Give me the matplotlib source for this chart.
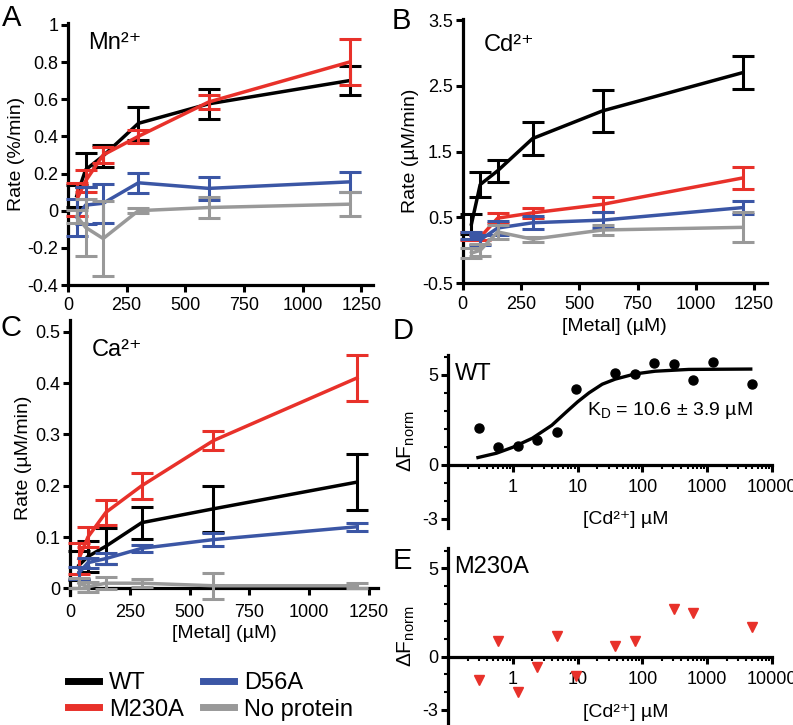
import matplotlib
matplotlib.use("Agg")
import matplotlib.pyplot as plt
from matplotlib.ticker import FuncFormatter, FixedLocator
from matplotlib.lines import Line2D

plt.rcParams['font.family'] = ['Liberation Sans', 'DejaVu Sans']
plt.rcParams['mathtext.fontset'] = 'custom'
plt.rcParams['mathtext.rm'] = 'Liberation Sans'
plt.rcParams['axes.unicode_minus'] = False

# metal concentrations (uM)
conc = [37.5, 75, 150, 300, 600, 1200]
names = ['WT', 'M230A', 'D56A', 'No protein']
colors = ['#000000', '#e8312a', '#3b56a5', '#999999']

# panel A, Mn2+ (%/min)
mn_wt = [0.08, 0.22, 0.295, 0.47, 0.575, 0.70]
mn_wt_err = [0.06, 0.09, 0.06, 0.09, 0.08, 0.08]
mn_m230a = [0.06, 0.16, 0.30, 0.40, 0.585, 0.80]
mn_m230a_err = [0.09, 0.06, 0.045, 0.035, 0.04, 0.125]
mn_d56a = [-0.035, 0.03, 0.04, 0.15, 0.12, 0.155]
mn_d56a_err = [0.10, 0.10, 0.105, 0.055, 0.06, 0.055]
mn_none = [-0.03, -0.09, -0.15, 0.0, 0.017, 0.035]
mn_none_err = [0.035, 0.155, 0.20, 0.015, 0.058, 0.065]

# panel B, Cd2+ (uM/min)
cd_wt = [0.40, 1.0, 1.21, 1.70, 2.12, 2.70]
cd_wt_err = [0.15, 0.19, 0.17, 0.25, 0.32, 0.25]
cd_m230a = [0.22, 0.20, 0.49, 0.57, 0.70, 1.10]
cd_m230a_err = [0.06, 0.04, 0.08, 0.08, 0.11, 0.17]
cd_d56a = [0.23, 0.16, 0.34, 0.42, 0.46, 0.65]
cd_d56a_err = [0.05, 0.08, 0.10, 0.10, 0.12, 0.10]
cd_none = [-0.04, 0.0, 0.28, 0.17, 0.31, 0.35]
cd_none_err = [0.08, 0.09, 0.10, 0.04, 0.07, 0.23]

# panel C, Ca2+ (uM/min)
ca_wt = [0.045, 0.062, 0.082, 0.128, 0.155, 0.207]
ca_wt_err = [0.028, 0.03, 0.035, 0.031, 0.045, 0.055]
ca_m230a = [0.058, 0.10, 0.148, 0.20, 0.288, 0.41]
ca_m230a_err = [0.03, 0.02, 0.025, 0.025, 0.018, 0.045]
ca_d56a = [0.03, 0.05, 0.058, 0.078, 0.095, 0.12]
ca_d56a_err = [0.012, 0.01, 0.01, 0.007, 0.012, 0.008]
ca_none = [0.01, 0.003, 0.01, 0.01, 0.005, 0.005]
ca_none_err = [0.01, 0.01, 0.012, 0.008, 0.025, 0.005]

# panel D, WT binding
wt_cd = [0.3, 0.6, 1.2, 2.4, 4.8, 9.6, 38, 76, 152, 305, 610, 1220, 4880]
wt_df = [2.05, 1.0, 1.05, 1.4, 1.8, 4.2, 5.1, 5.05, 5.65, 5.6, 4.7, 5.7, 4.5]
fit_cd = [0.29, 0.56, 1, 2, 4, 6.8, 10, 15, 24, 38, 77, 157, 520, 4700]
fit_df = [0.41, 0.65, 0.98, 1.48, 2.2, 2.96, 3.5, 4.0, 4.48, 4.76, 5.05, 5.2, 5.3, 5.32]

# panel E, M230A binding
m_cd = [0.3, 0.6, 1.2, 2.4, 4.8, 9.5, 38, 76, 305, 610, 4880]
m_df = [-1.3, 0.9, -2.0, -0.6, 1.2, -1.1, 0.6, 0.9, 2.7, 2.5, 1.7]

W, H = 793, 725
fig = plt.figure(figsize=(W / 100, H / 100), dpi=100)


def box(x0, x1, ytop, ybot):
    return [x0 / W, 1 - ybot / H, (x1 - x0) / W, (ybot - ytop) / H]


def style(ax, size=13):
    for s in ['top', 'right']:
        ax.spines[s].set_visible(False)
    for s in ['left', 'bottom']:
        ax.spines[s].set_linewidth(2.3)
    ax.tick_params(width=2.2, length=5, labelsize=size, pad=2)
    ax.yaxis.set_major_formatter(FuncFormatter(lambda v, p: '%g' % v))


def rate_panel(ax, series):
    for i, (y, e) in enumerate(series):
        ax.errorbar(conc, y, yerr=e, color=colors[i], lw=2.5, elinewidth=2.2,
                    capsize=8, capthick=2.2, zorder=3 + i, clip_on=False,
                    label=names[i])
    ax.set_xticks([0, 250, 500, 750, 1000, 1250])


axA = fig.add_axes(box(68, 373, 23, 285))
rate_panel(axA, [(mn_wt, mn_wt_err), (mn_m230a, mn_m230a_err),
                 (mn_d56a, mn_d56a_err), (mn_none, mn_none_err)])
axA.set_xlim(0, 1300)
axA.set_ylim(-0.4, 1.01)
axA.set_yticks([-0.4, -0.2, 0, 0.2, 0.4, 0.6, 0.8, 1])
axA.set_ylabel('Rate (%/min)', fontsize=14, labelpad=2)
axA.text(0.066, 0.925, 'Mn²⁺', transform=axA.transAxes,
         fontsize=17, va='center')
style(axA)
axA.tick_params(axis='x', pad=4)

axB = fig.add_axes(box(462.7, 767, 18.7, 283.3))
rate_panel(axB, [(cd_wt, cd_wt_err), (cd_m230a, cd_m230a_err),
                 (cd_d56a, cd_d56a_err), (cd_none, cd_none_err)])
axB.set_xlim(0, 1305)
axB.set_ylim(-0.5, 3.52)
axB.set_yticks([-0.5, 0.5, 1.5, 2.5, 3.5])
axB.set_ylabel('Rate (µM/min)', fontsize=14, labelpad=2)
style(axB)
axB.tick_params(axis='x', pad=4)
axB.set_xlabel('[Metal] (µM)', fontsize=14, labelpad=4)
axB.text(0.07, 0.9, 'Cd²⁺', transform=axB.transAxes,
         fontsize=17, va='center')

axC = fig.add_axes(box(70, 378, 320, 595))
rate_panel(axC, [(ca_wt, ca_wt_err), (ca_m230a, ca_m230a_err),
                 (ca_d56a, ca_d56a_err), (ca_none, ca_none_err)])
axC.set_xlim(0, 1288)
axC.set_ylim(-0.013, 0.523)
axC.spines['bottom'].set_position(('data', 0))
axC.set_yticks([0, 0.1, 0.2, 0.3, 0.4, 0.5])
axC.set_ylabel('Rate (µM/min)', fontsize=14, labelpad=2)
style(axC)
axC.tick_params(axis='x', pad=6)
axC.set_xlabel('[Metal] (µM)', fontsize=14, labelpad=3)
axC.text(0.071, 0.89, 'Ca²⁺', transform=axC.transAxes,
         fontsize=17, va='center')


def binding_panel(ax, top, bot, label_y):
    ax.set_xscale('log')
    ax.set_xlim(0.1, 10000)
    ax.set_ylim(bot, top)
    ax.spines['bottom'].set_position(('data', 0))
    ax.set_xticks([1, 10, 100, 1000, 10000])
    ax.set_xticklabels(['1', '10', '100', '1000', '10000'])
    ax.set_yticks([-3, 0, 5])
    ax.yaxis.set_minor_locator(FixedLocator(range(-3, 7)))
    style(ax)
    ax.tick_params(which='minor', width=1.5, length=3)
    ax.tick_params(axis='x', which='major', labelsize=13, pad=5)
    ax.set_ylabel(r'$\mathregular{\Delta F_{norm}}$', fontsize=15, labelpad=4)
    ax.text(0.55, label_y, '[Cd²⁺] µM',
            transform=ax.transAxes, ha='center', va='center', fontsize=14)


axD = fig.add_axes(box(448, 772, 355, 528))
axD.plot(fit_cd, fit_df, color='black', lw=2.4)
axD.plot(wt_cd, wt_df, 'o', color='black', ms=6.5, clip_on=False)
binding_panel(axD, 6.1, -3.5, 0.052)
axD.text(0.02, 0.89, 'WT', transform=axD.transAxes, fontsize=17, va='center')
axD.text(0.43, 0.68, r'$\mathregular{K_D}$ = 10.6 ± 3.9 µM',
         transform=axD.transAxes, fontsize=14, va='center')

axE = fig.add_axes(box(448, 772, 548, 724))
axE.plot(m_cd, m_df, 'v', color=colors[1], ms=6.5, clip_on=False)
binding_panel(axE, 6.15, -3.8, 0.068)
axE.text(0.02, 0.89, 'M230A', transform=axE.transAxes, fontsize=17, va='center')

# panel letters
for letter, x, y in [('A', 2, 18), ('B', 392, 21), ('C', 1, 328),
                     ('D', 393, 331), ('E', 393, 561)]:
    fig.text(x / W, 1 - y / H, letter, fontsize=21, va='center', ha='left')

handles = [Line2D([], [], color=c, lw=5) for c in colors]
fig.legend(handles, names, ncol=2, frameon=False,
           loc='upper left', bbox_to_anchor=(68 / W, 1 - 672 / H),
           fontsize=17, handlelength=1.3, handletextpad=0.45,
           columnspacing=0.8, labelspacing=0.2, borderpad=0, borderaxespad=0)

fig.savefig('out.png', dpi=100)
